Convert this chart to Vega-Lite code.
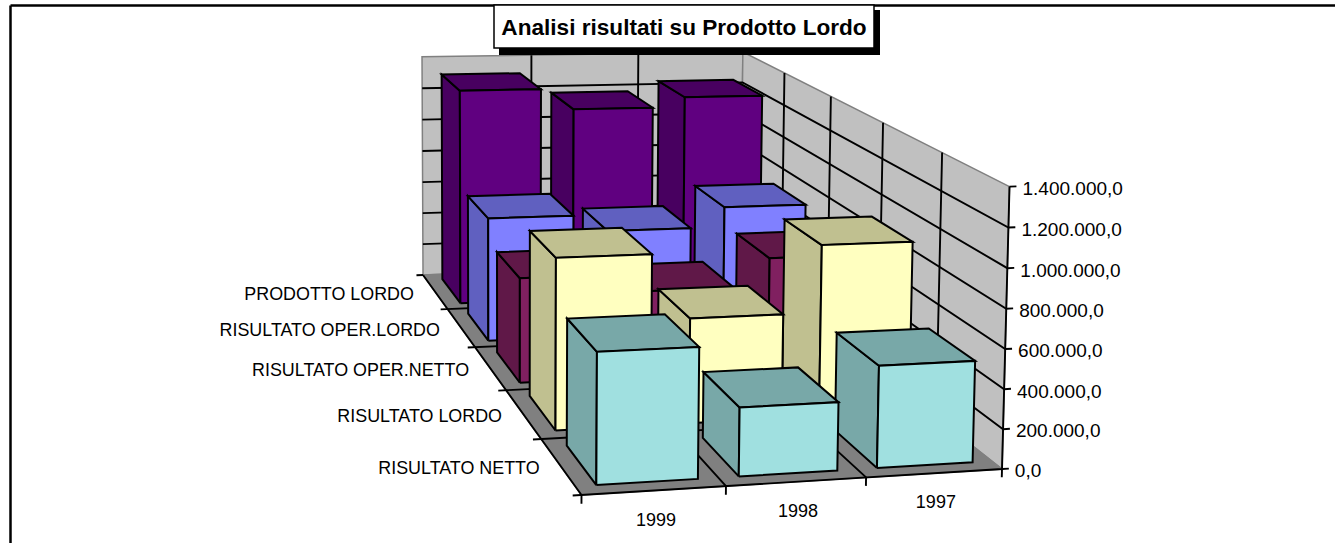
{
"$schema":"https://vega.github.io/schema/vega-lite/v6.json",
"width":1325,"height":538,
"autosize":{"type":"none"},
"padding":{"left":10,"top":5,"right":0,"bottom":0},
"background":"#ffffff",
"config":{"view":{"stroke":null},"text":{"font":"Liberation Sans","fontSize":18,"color":"#000000"}},
"datasets":{
"pareti":[{"piano":"fondo"},{"piano":"lato"},{"piano":"base"}],
"griglia":[
{"tipo":"valore","n":0},{"tipo":"valore","n":200000},{"tipo":"valore","n":400000},{"tipo":"valore","n":600000},{"tipo":"valore","n":800000},{"tipo":"valore","n":1000000},{"tipo":"valore","n":1200000},{"tipo":"valore","n":1400000},
{"tipo":"anno","n":0},{"tipo":"anno","n":1},{"tipo":"anno","n":2},{"tipo":"anno","n":3},
{"tipo":"voce","n":0},{"tipo":"voce","n":1},{"tipo":"voce","n":2},{"tipo":"voce","n":3},{"tipo":"voce","n":4},{"tipo":"voce","n":5}],
"barre":[
{"anno":1997,"voce":"PRODOTTO LORDO","valore":1239000},{"anno":1998,"voce":"PRODOTTO LORDO","valore":1178000},{"anno":1999,"voce":"PRODOTTO LORDO","valore":1306000},
{"anno":1997,"voce":"RISULTATO OPER.LORDO","valore":735000},{"anno":1998,"voce":"RISULTATO OPER.LORDO","valore":617000},{"anno":1999,"voce":"RISULTATO OPER.LORDO","valore":714000},
{"anno":1997,"voce":"RISULTATO OPER.NETTO","valore":634000},{"anno":1998,"voce":"RISULTATO OPER.NETTO","valore":477000},{"anno":1999,"voce":"RISULTATO OPER.NETTO","valore":576000},
{"anno":1997,"voce":"RISULTATO LORDO","valore":907000},{"anno":1998,"voce":"RISULTATO LORDO","valore":550000},{"anno":1999,"voce":"RISULTATO LORDO","valore":891000},
{"anno":1997,"voce":"RISULTATO NETTO","valore":511000},{"anno":1998,"voce":"RISULTATO NETTO","valore":340000},{"anno":1999,"voce":"RISULTATO NETTO","valore":645000}],
"etichetteValore":[{"n":0,"testo":"0,0"},{"n":200000,"testo":"200.000,0"},{"n":400000,"testo":"400.000,0"},{"n":600000,"testo":"600.000,0"},{"n":800000,"testo":"800.000,0"},{"n":1000000,"testo":"1.000.000,0"},{"n":1200000,"testo":"1.200.000,0"},{"n":1400000,"testo":"1.400.000,0"}],
"etichetteAnno":[{"n":0,"testo":"1999"},{"n":1,"testo":"1998"},{"n":2,"testo":"1997"}],
"etichetteVoce":[{"n":0,"testo":"RISULTATO NETTO"},{"n":1,"testo":"RISULTATO LORDO"},{"n":2,"testo":"RISULTATO OPER.NETTO"},{"n":3,"testo":"RISULTATO OPER.LORDO"},{"n":4,"testo":"PRODOTTO LORDO"}],
"titolo":[{"testo":"Analisi risultati su Prodotto Lordo"}]
},
"resolve":{"scale":{"fill":"independent"}},
"layer":[
{"resolve":{"scale":{"fill":"independent"}},
"encoding":{
"x":{"field":"xp","type":"quantitative","scale":{"domain":[10,1335],"nice":false,"zero":false},"axis":{"orient":"top","title":null,"labels":false,"ticks":false,"grid":false,"domain":true,"domainColor":"#000000","domainWidth":2.5}},
"y":{"field":"yp","type":"quantitative","scale":{"domain":[543,5],"nice":false,"zero":false},"axis":{"orient":"left","title":null,"labels":false,"ticks":false,"grid":false,"domain":true,"domainColor":"#000000","domainWidth":2.5}}
},
"layer":[
{"data":{"name":"pareti"},
"transform":[
{"calculate":"[0,1,2,3,4]","as":"vertice"},{"flatten":["vertice"]},
{"calculate":"datum.piano=='lato'?1:((datum.vertice==1||datum.vertice==2)?1:0)","as":"pu"},
{"calculate":"datum.piano=='fondo'?1:(datum.piano=='lato'?((datum.vertice==1||datum.vertice==2)?1:0):((datum.vertice==2||datum.vertice==3)?1:0))","as":"pv"},
{"calculate":"datum.piano=='base'?0:((datum.vertice==2||datum.vertice==3)?1:0)","as":"ph"},
{"calculate":"(581.5+467.3*datum.pu-4.5*datum.pv-8*datum.ph)/(1+0.0467*datum.pu+0.364*datum.pv-0.0157*datum.ph)","as":"xp"},
{"calculate":"(495-4.1*datum.pu-119.9*datum.pv-298.5*datum.ph)/(1+0.0467*datum.pu+0.364*datum.pv-0.0157*datum.ph)","as":"yp"}
],
"mark":{"type":"line","stroke":"#808080","strokeWidth":1.5},
"encoding":{"fill":{"field":"piano","type":"nominal","scale":{"domain":["fondo","lato","base"],"range":["#c0c0c0","#c0c0c0","#808080"]},"legend":null},"order":{"field":"vertice","type":"quantitative"}}},
{"data":{"name":"griglia"},
"transform":[
{"calculate":"[0,1,2,3]","as":"vertice"},{"flatten":["vertice"]},
{"calculate":"datum.n>0&&datum.n<1400000","as":"interna"},
{"calculate":"datum.tipo=='valore'?(datum.vertice==0?(datum.interna?0:1):(datum.vertice==3?1.017:1)):(datum.tipo=='anno'?datum.n/3:(datum.vertice==0?-0.02:(datum.n==5?0:1)))","as":"pu"},
{"calculate":"datum.tipo=='valore'?((datum.vertice<=1&&datum.interna)?1:0):(datum.tipo=='anno'?((datum.vertice>=2&&datum.n<3)?1:0):datum.n/5)","as":"pv"},
{"calculate":"datum.tipo=='valore'?datum.n/1400000:(datum.tipo=='anno'?(datum.vertice==0?-0.03:((datum.vertice==3&&(datum.n==1||datum.n==2))?1:0)):((datum.vertice>=2&&datum.n<5)?1:0))","as":"ph"},
{"calculate":"datum.tipo+datum.n","as":"linea"},
{"calculate":"(581.5+467.3*datum.pu-4.5*datum.pv-8*datum.ph)/(1+0.0467*datum.pu+0.364*datum.pv-0.0157*datum.ph)","as":"xp"},
{"calculate":"(495-4.1*datum.pu-119.9*datum.pv-298.5*datum.ph)/(1+0.0467*datum.pu+0.364*datum.pv-0.0157*datum.ph)","as":"yp"}
],
"mark":{"type":"line","stroke":"#000000","strokeWidth":1.9},
"encoding":{"detail":{"field":"linea","type":"nominal"},"order":{"field":"vertice","type":"quantitative"}}},
{"data":{"name":"barre"},
"transform":[
{"calculate":"['lato','cima','fronte']","as":"faccia"},{"flatten":["faccia"]},
{"calculate":"[0,1,2,3,4]","as":"vertice"},{"flatten":["vertice"]},
{"calculate":"indexof([1999,1998,1997],datum.anno)","as":"i"},
{"calculate":"indexof(['RISULTATO NETTO','RISULTATO LORDO','RISULTATO OPER.NETTO','RISULTATO OPER.LORDO','PRODOTTO LORDO'],datum.voce)","as":"j"},
{"calculate":"(datum.i+0.145)/3","as":"u0"},{"calculate":"(datum.i+0.855)/3","as":"u1"},
{"calculate":"(datum.j+0.145)/5","as":"v0"},{"calculate":"(datum.j+0.855)/5","as":"v1"},
{"calculate":"datum.vertice==1||datum.vertice==2","as":"due"},
{"calculate":"datum.vertice==2||datum.vertice==3","as":"alto"},
{"calculate":"datum.faccia=='lato'?datum.u0:(datum.due?datum.u1:datum.u0)","as":"pu"},
{"calculate":"datum.faccia=='fronte'?datum.v0:(datum.faccia=='lato'?(datum.due?datum.v1:datum.v0):(datum.alto?datum.v1:datum.v0))","as":"pv"},
{"calculate":"(datum.faccia=='cima'||datum.alto)?datum.valore/1400000:0","as":"ph"},
{"calculate":"datum.anno+' '+datum.voce+' '+datum.faccia","as":"faccetta"},
{"calculate":"datum.voce+(datum.faccia=='fronte'?' chiaro':' scuro')","as":"tinta"},
{"calculate":"(581.5+467.3*datum.pu-4.5*datum.pv-8*datum.ph)/(1+0.0467*datum.pu+0.364*datum.pv-0.0157*datum.ph)","as":"xp"},
{"calculate":"(495-4.1*datum.pu-119.9*datum.pv-298.5*datum.ph)/(1+0.0467*datum.pu+0.364*datum.pv-0.0157*datum.ph)","as":"yp"}
],
"mark":{"type":"line","stroke":"#000000","strokeWidth":2},
"encoding":{
"fill":{"field":"tinta","type":"nominal","legend":null,"scale":{"domain":["PRODOTTO LORDO chiaro","PRODOTTO LORDO scuro","RISULTATO OPER.LORDO chiaro","RISULTATO OPER.LORDO scuro","RISULTATO OPER.NETTO chiaro","RISULTATO OPER.NETTO scuro","RISULTATO LORDO chiaro","RISULTATO LORDO scuro","RISULTATO NETTO chiaro","RISULTATO NETTO scuro"],"range":["#600080","#480060","#8080ff","#6060c0","#802060","#601848","#ffffc0","#c0c090","#a0e0e0","#78a8a8"]}},
"detail":{"field":"faccetta","type":"nominal"},
"order":{"field":"vertice","type":"quantitative"}}},
{"data":{"name":"etichetteValore"},
"transform":[
{"calculate":"1.032","as":"pu"},{"calculate":"0","as":"pv"},{"calculate":"datum.n/1400000","as":"ph"},
{"calculate":"(581.5+467.3*datum.pu-4.5*datum.pv-8*datum.ph)/(1+0.0467*datum.pu+0.364*datum.pv-0.0157*datum.ph)","as":"xp"},
{"calculate":"(495-4.1*datum.pu-119.9*datum.pv-298.5*datum.ph)/(1+0.0467*datum.pu+0.364*datum.pv-0.0157*datum.ph)","as":"yp"}
],
"mark":{"type":"text","align":"left","baseline":"middle","dy":3,"fontSize":19},
"encoding":{"text":{"field":"testo"}}},
{"data":{"name":"etichetteAnno"},
"transform":[
{"calculate":"(datum.n+0.5)/3","as":"pu"},{"calculate":"0","as":"pv"},{"calculate":"-0.105","as":"ph"},
{"calculate":"(581.5+467.3*datum.pu-4.5*datum.pv-8*datum.ph)/(1+0.0467*datum.pu+0.364*datum.pv-0.0157*datum.ph)","as":"xp"},
{"calculate":"(495-4.1*datum.pu-119.9*datum.pv-298.5*datum.ph)/(1+0.0467*datum.pu+0.364*datum.pv-0.0157*datum.ph)","as":"yp"}
],
"mark":{"type":"text","align":"center","baseline":"middle","dx":2},
"encoding":{"text":{"field":"testo"}}},
{"data":{"name":"etichetteVoce"},
"transform":[
{"calculate":"0","as":"pu"},{"calculate":"(datum.n+0.5)/5","as":"pv"},{"calculate":"0","as":"ph"},
{"calculate":"(581.5+467.3*datum.pu-4.5*datum.pv-8*datum.ph)/(1+0.0467*datum.pu+0.364*datum.pv-0.0157*datum.ph)","as":"xp"},
{"calculate":"(495-4.1*datum.pu-119.9*datum.pv-298.5*datum.ph)/(1+0.0467*datum.pu+0.364*datum.pv-0.0157*datum.ph)","as":"yp"}
],
"mark":{"type":"text","align":"right","baseline":"middle","dx":-21,"dy":3,"fontSize":17.9},
"encoding":{"text":{"field":"testo"}}}
]},
{"data":{"name":"titolo"},
"mark":{"type":"rect","fill":"#000000"},
"encoding":{"x":{"datum":499,"type":"quantitative","scale":{"domain":[10,1335],"nice":false,"zero":false},"axis":{"orient":"top","title":null,"labels":false,"ticks":false,"grid":false,"domain":true,"domainColor":"#000000","domainWidth":2.5}},"x2":{"datum":880},"y":{"datum":10,"type":"quantitative","scale":{"domain":[543,5],"nice":false,"zero":false},"axis":{"orient":"left","title":null,"labels":false,"ticks":false,"grid":false,"domain":true,"domainColor":"#000000","domainWidth":2.5}},"y2":{"datum":55}}},
{"data":{"name":"titolo"},
"mark":{"type":"rect","fill":"#ffffff","stroke":"#000000","strokeWidth":1.5},
"encoding":{"x":{"datum":494,"type":"quantitative","scale":{"domain":[10,1335],"nice":false,"zero":false},"axis":{"orient":"top","title":null,"labels":false,"ticks":false,"grid":false,"domain":true,"domainColor":"#000000","domainWidth":2.5}},"x2":{"datum":874},"y":{"datum":5,"type":"quantitative","scale":{"domain":[543,5],"nice":false,"zero":false},"axis":{"orient":"left","title":null,"labels":false,"ticks":false,"grid":false,"domain":true,"domainColor":"#000000","domainWidth":2.5}},"y2":{"datum":48}}},
{"data":{"name":"titolo"},
"mark":{"type":"text","fontWeight":"bold","fontSize":22.6,"align":"center","baseline":"middle"},
"encoding":{"x":{"datum":684,"type":"quantitative","scale":{"domain":[10,1335],"nice":false,"zero":false},"axis":{"orient":"top","title":null,"labels":false,"ticks":false,"grid":false,"domain":true,"domainColor":"#000000","domainWidth":2.5}},"y":{"datum":28,"type":"quantitative","scale":{"domain":[543,5],"nice":false,"zero":false},"axis":{"orient":"left","title":null,"labels":false,"ticks":false,"grid":false,"domain":true,"domainColor":"#000000","domainWidth":2.5}},"text":{"field":"testo"}}}
]
}
